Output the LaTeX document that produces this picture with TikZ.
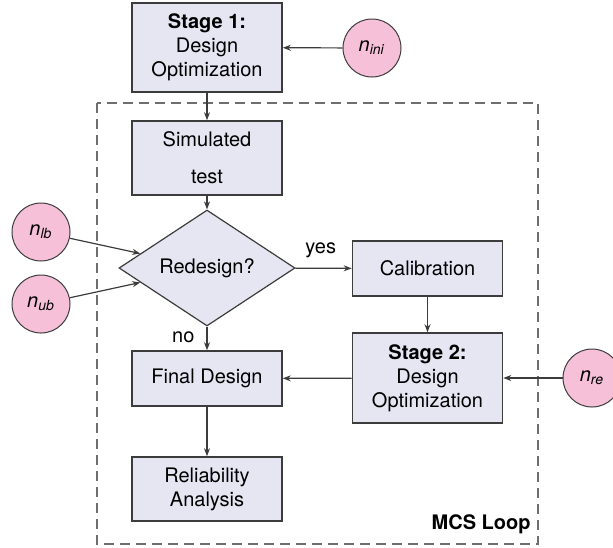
\documentclass[tikz,border=0pt]{standalone}
\usepackage{fontspec}
\setmainfont{TeX Gyre Heros}
\usepackage{tikz}
\usetikzlibrary{positioning, shapes.geometric, arrows.meta}
\definecolor{blockColor}{RGB}{230,230,243}
\definecolor{inputColor}{RGB}{246,192,217}
\definecolor{lineColor}{RGB}{60,60,60}
\definecolor{loopColor}{RGB}{110,110,110}
\tikzstyle{flowchart} = [x = .5pt, y = -.5pt]
\tikzstyle{blockStyle} = [draw=lineColor, fill=blockColor, line width=.8pt, minimum width=75pt, align=center, inner sep=2pt]
\tikzstyle{decisionStyle} = [diamond, draw=lineColor, fill=blockColor, line width=.6pt, minimum width=88pt, minimum height=58pt, inner sep=0pt]
\tikzstyle{inputStyle} = [circle, draw=lineColor, fill=inputColor, line width=.5pt, minimum size=29pt, inner sep=0pt]
\tikzstyle{flowArrow} = [draw=lineColor, line width=.6pt, -{Stealth[length=4pt, width=3pt]}]
\tikzstyle{loopLine} = [draw=loopColor, line width=.6pt, dash pattern=on 5pt off 3pt]
\tikzstyle{labelText} = [inner sep=1pt]
\newcommand{\flowBlock}[4]{\node [blockStyle, minimum height=#3] (#1) at (#2) {#4};}
\newcommand{\inputNode}[3]{\node [inputStyle] (#1) at (#2) {\textit{n}\textsubscript{\textit{#3}}};}

\begin{document}
\begin{tikzpicture}[flowchart]
  \useasboundingbox (0,0) rectangle (613,547);
  % MCS loop frame
  \draw [loopLine] (97,103) rectangle (538,544);
  \node [labelText, font=\bfseries, anchor=east] (loopLabel) at (533,524) {MCS Loop};

  \flowBlock{stageOne}{207,47.5}{44.5pt}{\textbf{Stage 1:}\\Design\\Optimization}
  \flowBlock{simTest}{207,158}{37pt}{Simulated\\[6.5pt]test}
  \node [decisionStyle] (redesign) at (207,268) {Redesign?};
  \flowBlock{calibration}{427.5,268.5}{27.5pt}{Calibration}
  \flowBlock{stageTwo}{427.5,378}{45pt}{\textbf{Stage 2:}\\Design\\Optimization}
  \flowBlock{finalDesign}{207,378.5}{27.5pt}{Final Design}
  \flowBlock{reliability}{207,489}{32pt}{Reliability\\Analysis}

  \inputNode{nIni}{372,48}{ini}
  \inputNode{nLb}{41,232}{lb}
  \inputNode{nUb}{41,304}{ub}
  \inputNode{nRe}{592,378}{re}

  % connectors
  \draw [flowArrow] (stageOne) -- (simTest);
  \draw [flowArrow] (simTest) -- (redesign);
  \draw [flowArrow] (redesign) -- node [labelText, above=4pt, pos=.45] (yesLabel) {yes} (calibration);
  \draw [flowArrow] (redesign) -- node [labelText, left=5pt, pos=.45] (noLabel) {no} (finalDesign);
  \draw [flowArrow] (calibration) -- (stageTwo);
  \draw [flowArrow] (stageTwo) -- (finalDesign);
  \draw [flowArrow] (finalDesign) -- (reliability);
  \draw [flowArrow] (nIni) -- (stageOne);
  \draw [flowArrow] (nRe) -- (stageTwo);
  \draw [flowArrow] (nLb) -- (redesign);
  \draw [flowArrow] (nUb) -- (redesign);
\end{tikzpicture}
\end{document}
